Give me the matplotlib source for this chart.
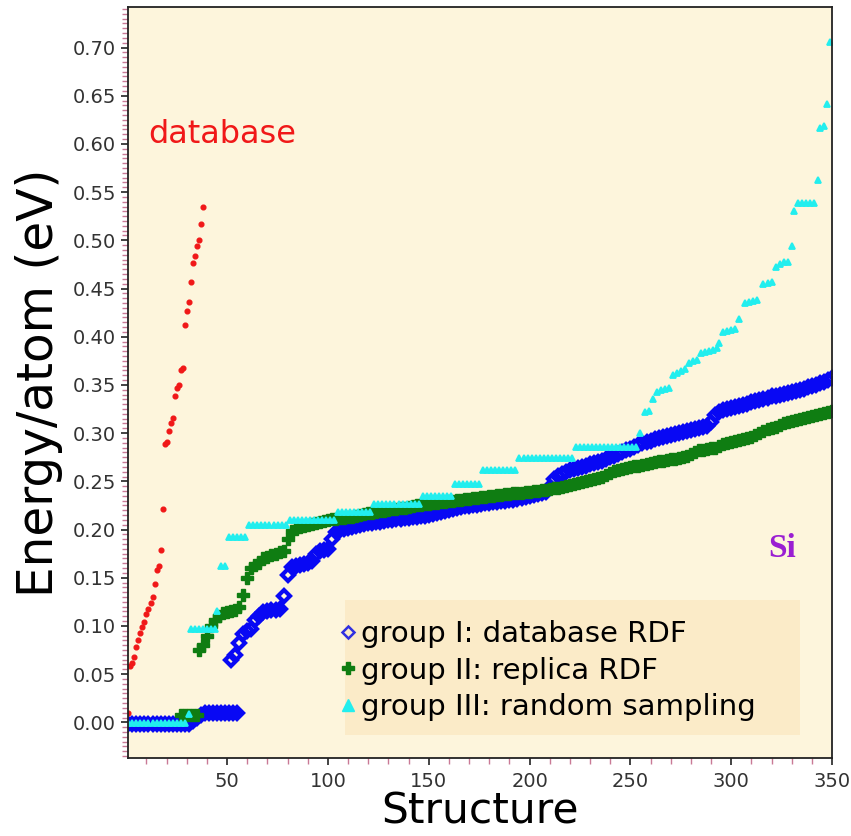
import numpy as np
import matplotlib
matplotlib.use("Agg")
import matplotlib.pyplot as plt
from matplotlib.ticker import MultipleLocator, FormatStrFormatter, FixedLocator
from matplotlib.lines import Line2D
from matplotlib.patches import Rectangle

# ---------------- data ----------------
# "database" reference structures (red dots)
red_x = [1, 2, 3, 4, 5, 6, 7, 8, 9, 10, 11, 12, 13, 14, 15, 16, 17, 18, 19,
         20, 21, 22, 23, 24, 25, 26, 27, 28, 29, 30, 31, 32, 33, 34, 35, 36, 37, 38]
red_y = [0.010, 0.058, 0.062, 0.068, 0.078, 0.085, 0.093, 0.099, 0.104, 0.112,
         0.118, 0.124, 0.130, 0.143, 0.158, 0.162, 0.179, 0.221, 0.289, 0.291,
         0.302, 0.310, 0.316, 0.338, 0.347, 0.350, 0.365, 0.368, 0.412, 0.427,
         0.436, 0.457, 0.476, 0.484, 0.494, 0.500, 0.517, 0.535]

# group I: database RDF (blue open diamonds)
blue_low_x = np.arange(1, 56, 2)
blue_low_y = [-0.002, -0.002, -0.002, -0.002, -0.002, -0.002, -0.002, -0.002,
              -0.002, -0.002, -0.002, -0.002, -0.002, -0.002, -0.002, -0.002,
              0.001, 0.005, 0.008,
              0.010, 0.010, 0.010, 0.010, 0.010, 0.010, 0.010, 0.010, 0.010]
blue_x = np.arange(52, 351, 2)
blue_y = [0.065, 0.070, 0.082, 0.092, 0.095, 0.097, 0.106, 0.110, 0.114, 0.115,
          0.117, 0.117, 0.118, 0.131, 0.153, 0.161, 0.162, 0.163, 0.164, 0.165,
          0.167, 0.175, 0.178, 0.179, 0.180, 0.190, 0.197, 0.200, 0.201, 0.202,
          0.203, 0.204, 0.205, 0.206, 0.207, 0.207, 0.208, 0.208, 0.209, 0.210,
          0.210, 0.211, 0.211, 0.212, 0.212, 0.213, 0.213, 0.214, 0.214, 0.215,
          0.216, 0.217, 0.218, 0.219, 0.220, 0.221, 0.222, 0.223, 0.224, 0.224,
          0.225, 0.225, 0.226, 0.227, 0.228, 0.229, 0.229, 0.230, 0.230, 0.231,
          0.231, 0.232, 0.233, 0.234, 0.235, 0.236, 0.237, 0.238, 0.239, 0.244,
          0.252, 0.256, 0.258, 0.260, 0.262, 0.263, 0.264, 0.265, 0.266, 0.268,
          0.269, 0.270, 0.271, 0.273, 0.275, 0.276, 0.278, 0.280, 0.282, 0.284,
          0.286, 0.288, 0.290, 0.291, 0.292, 0.294, 0.295, 0.296, 0.297, 0.298,
          0.299, 0.300, 0.301, 0.302, 0.303, 0.304, 0.305, 0.306, 0.307, 0.312,
          0.319, 0.322, 0.324, 0.325, 0.326, 0.327, 0.328, 0.329, 0.330, 0.332,
          0.333, 0.334, 0.335, 0.336, 0.338, 0.339, 0.340, 0.341, 0.342, 0.343,
          0.344, 0.345, 0.346, 0.348, 0.349, 0.350, 0.352, 0.353, 0.355, 0.357]

# group II: replica RDF (green filled plus)
green_low_x = [27, 29, 31, 33, 35]
green_low_y = [0.008, 0.008, 0.008, 0.008, 0.008]
green_x = np.arange(36, 351, 2)
green_y = [0.075, 0.080, 0.090, 0.100, 0.106, 0.110, 0.113, 0.114, 0.116, 0.117,
           0.120, 0.132, 0.150, 0.160, 0.163, 0.165, 0.170, 0.172, 0.174, 0.175,
           0.177, 0.178, 0.190, 0.198, 0.201, 0.203, 0.204, 0.205, 0.206, 0.207,
           0.208, 0.209, 0.210, 0.211, 0.211, 0.212, 0.212, 0.213, 0.213, 0.214,
           0.215, 0.216, 0.217, 0.217, 0.218, 0.219, 0.219, 0.220, 0.221, 0.221,
           0.222, 0.222, 0.223, 0.224, 0.225, 0.225, 0.226, 0.226, 0.227, 0.228,
           0.229, 0.229, 0.230, 0.230, 0.231, 0.231, 0.232, 0.232, 0.233, 0.233,
           0.234, 0.234, 0.235, 0.235, 0.236, 0.236, 0.237, 0.237, 0.238, 0.238,
           0.238, 0.239, 0.239, 0.240, 0.240, 0.241, 0.241, 0.242, 0.243, 0.243,
           0.244, 0.245, 0.246, 0.247, 0.248, 0.249, 0.250, 0.251, 0.252, 0.253,
           0.255, 0.257, 0.259, 0.261, 0.262, 0.263, 0.264, 0.265, 0.266, 0.266,
           0.267, 0.268, 0.269, 0.270, 0.271, 0.271, 0.272, 0.273, 0.273, 0.274,
           0.275, 0.276, 0.278, 0.280, 0.282, 0.283, 0.284, 0.285, 0.285, 0.287,
           0.289, 0.290, 0.291, 0.292, 0.293, 0.294, 0.295, 0.296, 0.298, 0.300,
           0.302, 0.304, 0.305, 0.306, 0.308, 0.310, 0.312, 0.313, 0.314, 0.315,
           0.316, 0.317, 0.318, 0.319, 0.320, 0.321, 0.322, 0.323]

# group III: random sampling (cyan triangles)
cyan_x = [1, 3, 5, 7, 9, 11, 13, 15, 17, 19, 21, 23, 25, 27, 29, 31,
          32, 34, 36, 38, 40, 42, 44, 45, 47, 49,
          51, 53, 55, 57, 59,
          61, 63, 65, 67, 69, 71, 73, 75, 77, 79,
          81, 83, 85, 87, 89, 91, 93, 95, 97, 99, 101, 103,
          105, 107, 109, 111, 113, 115, 117, 119, 121,
          123, 125, 127, 129, 131, 133, 135, 137, 139, 141, 143, 145,
          147, 149, 151, 153, 155, 157, 159, 161,
          163, 165, 167, 169, 171, 173, 175,
          177, 179, 181, 183, 185, 187, 189, 191, 193,
          195, 197, 199, 201, 203, 205, 207, 209, 211, 213, 215, 217, 219, 221,
          223, 225, 227, 229, 231, 233, 235, 237, 239, 241, 243, 245, 247, 249, 251, 253,
          255, 257, 259, 261, 263, 265, 267, 269,
          271, 273, 275, 277, 279, 281, 283,
          285, 287, 289, 291, 293, 294,
          296, 298, 300, 302, 304,
          307, 309, 311, 313, 316, 318, 320,
          322, 324, 326, 328, 330, 331,
          333, 335, 337, 339, 341, 343, 344, 346, 347.5, 349]
cyan_y = [-0.001, -0.001, -0.001, -0.001, -0.001, -0.001, -0.001, -0.001,
          -0.001, -0.001, -0.001, -0.001, -0.001, -0.001, -0.001, 0.009,
          0.097, 0.097, 0.097, 0.097, 0.097, 0.097, 0.097, 0.115, 0.1625, 0.1625,
          0.192, 0.192, 0.192, 0.192, 0.192,
          0.205, 0.205, 0.205, 0.205, 0.205, 0.205, 0.205, 0.205, 0.205, 0.205,
          0.210, 0.210, 0.210, 0.210, 0.210, 0.210, 0.210, 0.210, 0.210, 0.210, 0.210, 0.210,
          0.218, 0.218, 0.218, 0.218, 0.218, 0.218, 0.218, 0.218, 0.218,
          0.226, 0.226, 0.226, 0.226, 0.226, 0.226, 0.226, 0.226, 0.226, 0.226, 0.226, 0.226,
          0.235, 0.235, 0.235, 0.235, 0.235, 0.235, 0.235, 0.235,
          0.247, 0.247, 0.247, 0.247, 0.247, 0.247, 0.247,
          0.262, 0.262, 0.262, 0.262, 0.262, 0.262, 0.262, 0.262, 0.262,
          0.274, 0.274, 0.274, 0.274, 0.274, 0.274, 0.274, 0.274, 0.274, 0.274, 0.274, 0.274, 0.274, 0.274,
          0.286, 0.286, 0.286, 0.286, 0.286, 0.286, 0.286, 0.286, 0.286, 0.286, 0.286, 0.286, 0.286, 0.286, 0.286, 0.286,
          0.300, 0.322, 0.323, 0.335, 0.343, 0.345, 0.346, 0.347,
          0.360, 0.362, 0.364, 0.366, 0.373, 0.375, 0.376,
          0.383, 0.384, 0.385, 0.386, 0.388, 0.3935,
          0.405, 0.406, 0.407, 0.408, 0.418,
          0.435, 0.436, 0.437, 0.438, 0.455, 0.456, 0.457,
          0.472, 0.475, 0.477, 0.478, 0.4945, 0.530,
          0.539, 0.539, 0.539, 0.539, 0.539, 0.563, 0.617, 0.619, 0.641, 0.706]

x_ticks = [50, 100, 150, 200, 250, 300, 350]
legend_labels = ["group I: database RDF", "group II: replica RDF",
                 "group III: random sampling"]

# ---------------- styles ----------------
BLUE = '#0808f4'
GREEN = '#0f7d12'
CYAN = '#22eeee'
RED = '#f01818'
blue_kw = dict(ls='none', marker='D', ms=6.6, mfc='none', mec=BLUE, mew=3.0)
green_kw = dict(ls='none', marker='P', ms=8.0, color=GREEN, mec=GREEN, mew=1.0)
cyan_kw = dict(ls='none', marker='^', ms=4.2, color=CYAN, mec=CYAN, mew=1.3)

fig = plt.figure(figsize=(8.51, 8.36), dpi=100)
ax = fig.add_axes([0.1508, 0.0933, 0.8269, 0.8983])
ax.set_facecolor('#fdf5dc')

ax.plot(blue_low_x, blue_low_y, **blue_kw)
ax.plot(blue_x, blue_y, **blue_kw)
ax.plot(green_low_x, green_low_y, **green_kw)
ax.plot(green_x, green_y, **green_kw)
ax.plot(cyan_x, cyan_y, **cyan_kw)
ax.plot(red_x, red_y, ls='none', marker='o', ms=3.4, color=RED, mec=RED)

ax.set_xlim(1, 350)
ax.set_ylim(-0.037, 0.742)

ax.xaxis.set_major_locator(FixedLocator(x_ticks))
ax.xaxis.set_minor_locator(MultipleLocator(10))
ax.yaxis.set_major_locator(MultipleLocator(0.05))
ax.yaxis.set_minor_locator(MultipleLocator(0.005))
ax.yaxis.set_major_formatter(FormatStrFormatter('%.2f'))

ax.tick_params(which='major', direction='out', length=5, width=1.2,
               color='#222222', labelsize=14, labelcolor='#333333')
ax.tick_params(axis='x', which='major', pad=5)
ax.tick_params(axis='y', which='major', pad=4)
ax.tick_params(which='minor', direction='out', length=4, width=1.0,
               color='#c97a96')
for sp in ax.spines.values():
    sp.set_linewidth(1.3)
    sp.set_color('#222222')

ax.set_xlabel('Structure', fontsize=30.5, labelpad=0)
ax.set_ylabel('Energy/atom (eV)', fontsize=35, labelpad=7)

ax.text(10.8, 0.601, 'database', color=RED, fontsize=23, va='baseline', ha='left')
ax.text(318.2, 0.172, 'Si', color='#9a1ed2', fontsize=24, fontweight='bold',
        family='Liberation Serif', va='baseline', ha='left')

# legend background panel
ax.add_patch(Rectangle((0.308, 0.031), 0.647, 0.179, transform=ax.transAxes,
                       facecolor='#fbebc8', edgecolor='none', zorder=1.5))

handles = [Line2D([], [], ls='none', marker='D', ms=6.5, mfc='none', mec='#3030e0', mew=1.8),
           Line2D([], [], ls='none', marker='P', ms=8, color=GREEN),
           Line2D([], [], ls='none', marker='^', ms=8, color=CYAN)]
leg = ax.legend(handles, legend_labels, loc='upper left', bbox_to_anchor=(0.302, 0.184),
                frameon=False, fontsize=21, handlelength=0.5, handletextpad=0.2,
                labelspacing=0.3, borderpad=0, borderaxespad=0)
leg.set_zorder(5)

fig.savefig('out.png', dpi=100)
